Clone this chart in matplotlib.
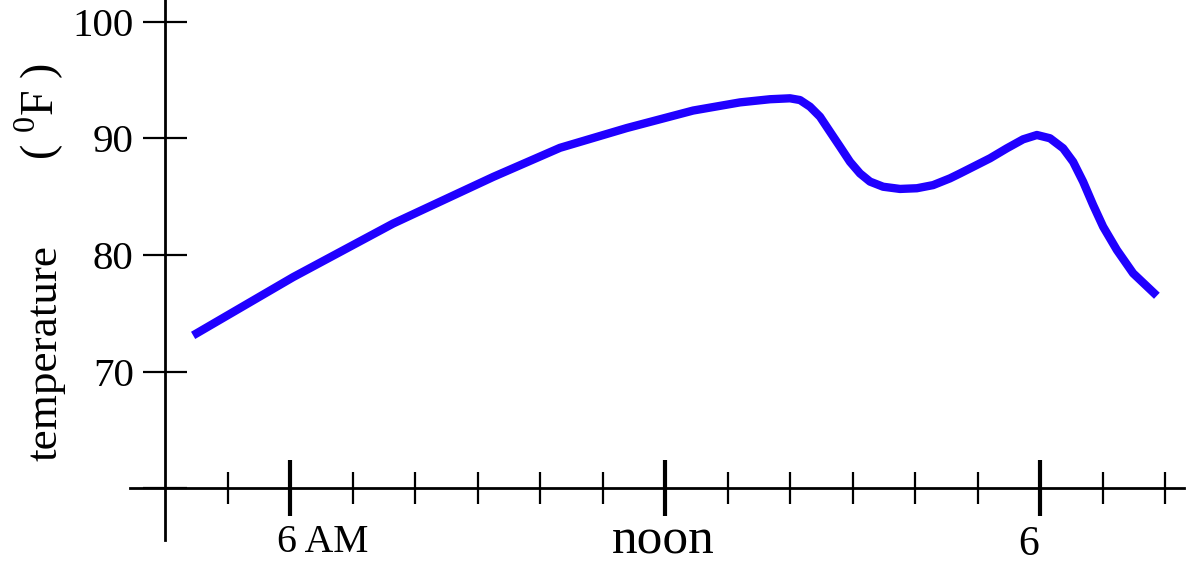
import matplotlib
matplotlib.use('Agg')
import matplotlib.pyplot as plt

# temperature over the day (hour of day, deg F)
hours = [4.45, 6.05, 7.65, 9.25, 10.32, 11.39, 12.45, 13.2, 13.68, 14.0,
         14.16, 14.32, 14.48, 14.64, 14.8, 14.96, 15.12, 15.28, 15.49, 15.76,
         16.03, 16.29, 16.56, 16.72, 17.2, 17.47, 17.73, 17.95, 18.16, 18.37,
         18.53, 18.69, 18.85, 19.01, 19.23, 19.49, 19.87]
temps = [73.1, 78.1, 82.7, 86.7, 89.2, 90.9, 92.4, 93.1, 93.37, 93.45,
         93.3, 92.73, 91.87, 90.58, 89.3, 88.0, 87.0, 86.3, 85.86, 85.67,
         85.73, 86.0, 86.58, 87.0, 88.3, 89.16, 89.93, 90.3, 90.02, 89.16,
         88.0, 86.29, 84.29, 82.43, 80.43, 78.43, 76.5]

major_hours = [6, 12, 18]
minor_hours = [5, 7, 8, 9, 10, 11, 13, 14, 15, 16, 17, 19, 20]
x_labels = ['6 AM', 'noon', '6']
y_ticks = [60, 70, 80, 90, 100]
y_labels = ['', '70', '80', '90', '100']

plt.rcParams['font.family'] = 'Liberation Serif'
plt.rcParams['mathtext.fontset'] = 'custom'
plt.rcParams['mathtext.rm'] = 'Liberation Serif'

fig = plt.figure(figsize=(11.95, 5.71), dpi=100)
ax = fig.add_axes([0, 0, 1, 1])
ax.set_xlim(1.36, 20.48)
ax.set_ylim(52.876, 101.888)

ax.plot(hours, temps, color='#2000ff', lw=6, solid_capstyle='butt',
        solid_joinstyle='round')

# axes cross at (4 h, 60 F)
for s in ['top', 'right']:
    ax.spines[s].set_visible(False)
ax.spines['left'].set_position(('data', 4))
ax.spines['bottom'].set_position(('data', 60))
ax.spines['left'].set_bounds(55.5, 101.888)
ax.spines['bottom'].set_bounds(3.44, 20.3)
ax.spines['left'].set_linewidth(2)
ax.spines['bottom'].set_linewidth(2)

ax.set_xticks(major_hours)
ax.set_xticklabels([])
ax.set_xticks(minor_hours, minor=True)
ax.tick_params(axis='x', which='major', direction='inout', length=41, width=3)
ax.tick_params(axis='x', which='minor', direction='inout', length=23, width=1.6)

ax.set_yticks(y_ticks)
ax.set_yticklabels(y_labels)
ax.tick_params(axis='y', direction='inout', length=31, width=1.6, pad=7, labelsize=29.5)

# hour labels sit a little off their ticks
ax.text(6.52, 55.3, x_labels[0], fontsize=28.5, ha='center', va='center')
ax.text(11.97, 55.4, x_labels[1], fontsize=37, ha='center', va='center')
ax.text(17.81, 55.1, x_labels[2], fontsize=30, ha='center', va='center')

fig.text(45 / 1195, 1 - 353 / 571, 'temperature', fontsize=32.5, rotation=90,
         ha='center', va='center')
fig.text(39 / 1195, 1 - 112 / 571, r'( $^{0}$F )', fontsize=33, rotation=90,
         ha='center', va='center')

fig.savefig('out.png', dpi=100)
